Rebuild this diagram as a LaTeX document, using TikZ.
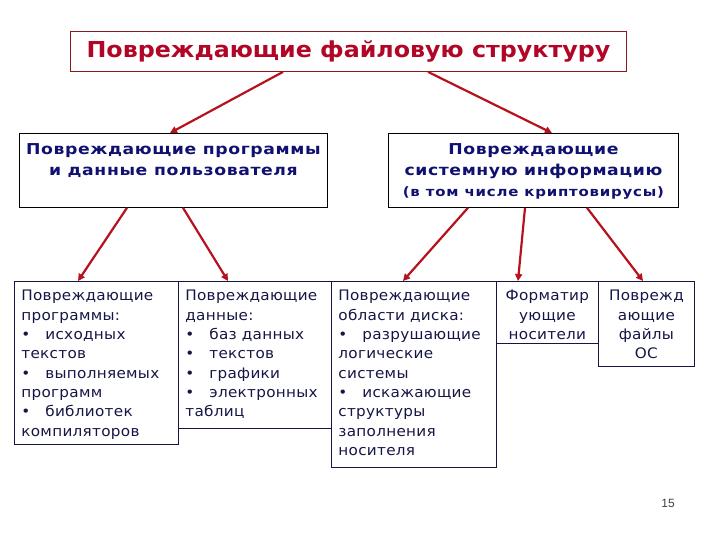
\documentclass[tikz,border=0pt]{standalone}
\usepackage{fontspec}
\setmainfont{DejaVu Sans}
\newfontfamily\pagefont{Liberation Sans}
\usetikzlibrary{arrows.meta}

\definecolor{titlered}{RGB}{178,6,38}
\definecolor{titleframe}{RGB}{140,24,30}
\definecolor{arrowred}{RGB}{182,18,30}
\definecolor{midnavy}{RGB}{16,16,112}
\definecolor{lownavy}{RGB}{22,22,70}

% text block of fixed size inside a box
\newcommand{\cellbox}[4][l]{%
  \begin{minipage}[t][#3][t]{#2}%
  \if#1c\centering\else\raggedright\fi #4\end{minipage}}
\newcommand{\itm}{\textbullet\hspace{15pt}}

\tikzset{
  topbox/.style={draw=titleframe, line width=0.9pt, fill=white, inner sep=0pt,
    minimum width=556pt, minimum height=40pt, text=titlered,
    font=\fontsize{22}{24}\bfseries\addfontfeature{FakeStretch=1.08,LetterSpace=0}},
  midbox/.style={draw=black, line width=0.8pt, inner xsep=3pt, inner ysep=10pt,
    text=midnavy, font=\fontsize{15}{21}\bfseries\addfontfeature{FakeStretch=1.15,LetterSpace=4}},
  lowbox/.style={draw=lownavy, line width=0.8pt, inner xsep=7pt, inner ysep=9pt,
    text=lownavy, font=\fontsize{14.5}{19.3}\selectfont\addfontfeature{FakeStretch=1.05,LetterSpace=2}},
  hit/.style={draw=arrowred, line width=2.2pt, -{Triangle[length=7pt,width=7pt]}}
}

\begin{document}
\begin{tikzpicture}[x=1pt,y=-1pt]
\useasboundingbox (0,0) rectangle (720,540);

\node[topbox, anchor=north west] at (70,31) (root) {Повреждающие файловую структуру};

\node[midbox, anchor=north west] at (19,133) (user)
  {\cellbox[c]{302pt}{54pt}{Повреждающие программы\\ и данные пользователя}};
\node[midbox, anchor=north west] at (388,133) (sys)
  {\cellbox[c]{284pt}{54pt}{Повреждающие\\ системную информацию\\
   {\fontsize{13}{21}\selectfont\addfontfeature{LetterSpace=6}(в том числе криптовирусы)}}};

\node[lowbox, anchor=north west] at (14,281) (progs)
  {\cellbox{150pt}{145pt}{Повреждающие\\ программы:\\ \itm исходных\\ текстов\\
   \itm выполняемых\\ программ\\ \itm библиотек\\ компиляторов}};
\node[lowbox, anchor=north west] at (178,281) (data)
  {\cellbox{139pt}{129pt}{Повреждающие\\ данные:\\ \itm баз данных\\ \itm текстов\\
   \itm графики\\ \itm электронных\\ таблиц}};
\node[lowbox, anchor=north west] at (331,281) (disk)
  {\cellbox{151pt}{168pt}{Повреждающие\\ области диска:\\ \itm разрушающие\\ логические\\
   системы\\ \itm искажающие\\ структуры\\ заполнения\\ носителя}};
\node[lowbox, anchor=north west, inner xsep=2pt] at (496,281) (fmt)
  {\cellbox[c]{98pt}{44pt}{Форматир\\ ующие\\ носители}};
\node[lowbox, anchor=north west, inner xsep=2pt] at (598,281) (osf)
  {\cellbox[c]{92pt}{67pt}{Поврежд\\ ающие\\ файлы\\ ОС}};

% arrows
\draw[hit] ([xshift=213pt]root.south west) -- ([xshift=151pt]user.north west);
\draw[hit] ([xshift=358pt]root.south west) -- ([xshift=164pt]sys.north west);

\draw[hit] ([xshift=108pt]user.south west) -- ([xshift=64pt]progs.north west);
\draw[hit] ([xshift=164pt]user.south west) -- ([xshift=50pt]data.north west);

\draw[hit] ([xshift=80pt]sys.south west) -- ([xshift=72pt]disk.north west);
\draw[hit] ([xshift=137pt]sys.south west) -- ([xshift=22pt]fmt.north west);
\draw[hit] ([xshift=199pt]sys.south west) -- ([xshift=45pt]osf.north west);

\node[font=\pagefont\fontsize{12}{14}\selectfont, text=black!75] at (668,503) (pagenum) {15};
\end{tikzpicture}
\end{document}
